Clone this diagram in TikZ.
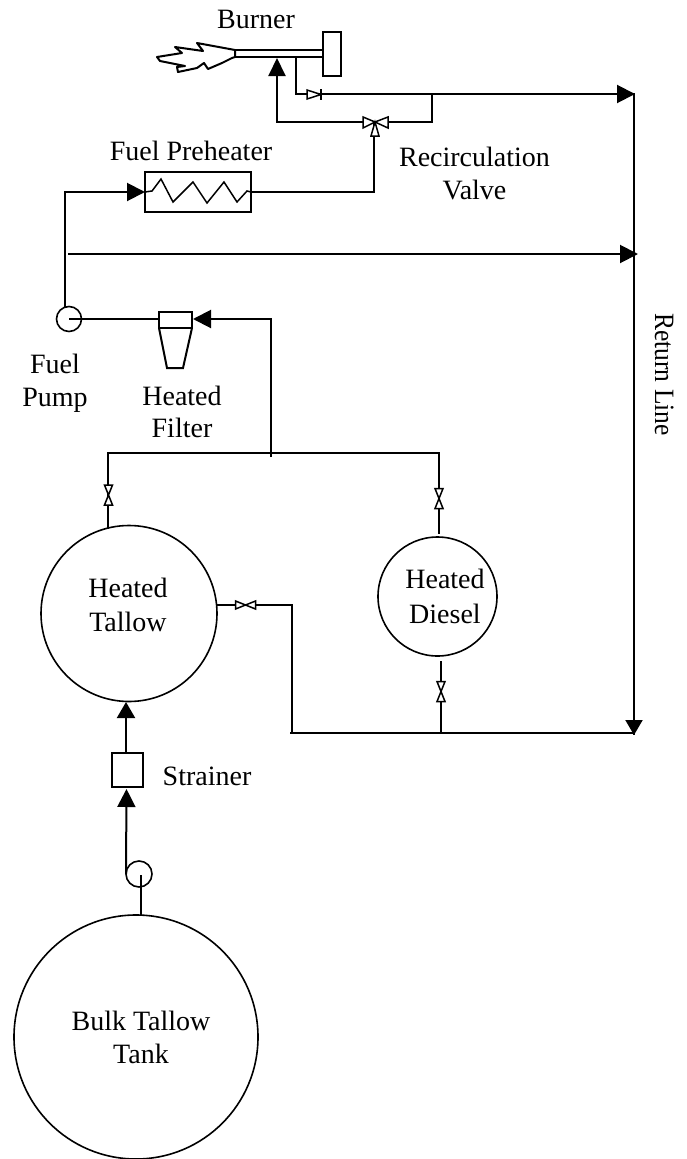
\documentclass[tikz,border=0pt]{standalone}
\usepackage{fontspec}
\setmainfont{Liberation Serif}
\usetikzlibrary{arrows.meta}
\tikzset{
  pipe/.style={line width=2pt, line join=miter},
  thinpipe/.style={line width=1.5pt},
  flow/.style={pipe, -{Triangle[length=18pt, width=18pt]}},
  tank/.style={circle, draw, line width=1.6pt, inner sep=0pt, outer sep=0pt, align=center},
  unit/.style={rectangle, draw, line width=1.5pt, inner sep=0pt, outer sep=0pt},
  label/.style={align=center, font=\fontsize{28}{33}\selectfont},
  valvev/.pic={\draw[thinpipe, fill=white] (-4,-10) -- (4,-10) -- (-4,10) -- (4,10) -- cycle;},
  valveh/.pic={\draw[thinpipe, fill=white] (-10,-4) -- (-10,4) -- (10,-4) -- (10,4) -- cycle;},
}
\begin{document}
\begin{tikzpicture}[x=1pt, y=-1pt]
  \useasboundingbox (0,0) rectangle (687,1159);

  % vessels
  \node[tank, minimum size=244pt] (bulk) at (136,1037) {};
  \node[tank, minimum size=176pt] (tallow) at (129,613.5) {};
  \node[tank, minimum size=119pt] (diesel) at (437.5,596.5) {};
  \node[tank, minimum size=26pt] (pumpb) at (139,874) {};
  \node[tank, minimum size=25pt] (pumpf) at (69,319) {};
  \node[unit, minimum width=31pt, minimum height=34pt] (strainer) at (127.5,770) {};
  \node[unit, minimum width=106pt, minimum height=40pt] (heater) at (198,192) {};
  \node[unit, minimum width=33pt, minimum height=16pt] (filter) at (175.5,320) {};
  \node[unit, minimum width=18pt, minimum height=44pt] (cap) at (332,54) {};

  % junctions
  \coordinate (retTop) at (635,94);
  \coordinate (retMid) at (638,254);
  \coordinate (retBot) at (634,735);
  \coordinate (hdrL) at (108,453);
  \coordinate (hdrM) at (271,453);
  \coordinate (hdrR) at (439,453);
  \coordinate (recV) at (375,122);
  \coordinate (chk) at (314,94);
  \coordinate (tee) at (432,94);
  \coordinate (teeLow) at (432,122);
  \coordinate (nozzle) at (277,58);
  \coordinate (nozzleT) at (296,57);
  \coordinate (lowL) at (292,733);
  \coordinate (lowD) at (441,733);
  \coordinate (lowR) at (634,733);
  \coordinate (vTallow) at (108.5,495);
  \coordinate (vDiesel) at (439,498.5);
  \coordinate (vLow) at (441,691.5);
  \coordinate (vIn) at (245.5,605);
  \coordinate (pumpfTop) at (65,308);
  \coordinate (tipIn) at (126,702);
  \coordinate (tipStr) at (126.5,789);

  % burner
  \draw[pipe] (235,50) -- (cap.west |- 0,50) (235,57) -- (cap.west |- 0,57);
  \draw[pipe, line join=round] (235,50) -- (197,43) -- (203,51) -- (175,47) -- (182,53)
    -- (157,57) -- (160,61) -- (185,66) -- (177,67) -- (178,72) -- (197,68) -- (204,63)
    -- (208,69) -- (222,63) -- (232,58) -- (235,57) -- cycle;

  % pipes
  \draw[flow] (pumpfTop) |- (heater.west);
  \draw[pipe] (heater.east) -| ([xshift=-1pt]recV);
  \draw[flow] (68,254) -- (retMid);
  \draw[pipe] (634,93) -- (retBot);
  \draw[flow, -{Triangle[length=15pt, width=17pt]}] (634,715) -- (retBot);
  \draw[flow] (chk) -- (retTop);
  \draw[pipe] (tee) -- (teeLow) -- (recV);
  \draw[flow, -{Triangle[length=18pt, width=17pt]}] (recV) -| (nozzle);
  \draw[pipe] (nozzleT) |- (chk);
  \draw[pipe] (pumpf.center) -- (filter.west |- pumpf.center);
  \draw[flow] (hdrM) |- ([xshift=1pt]filter.east |- pumpf.center);
  \draw[pipe] (108,529) -- (hdrL) -- (hdrR) -- (439,534);
  \draw[pipe] (271,457) -- (hdrM);
  \draw[pipe] (tallow.east |- vIn) -- (vIn) -- (292,605) -- (lowL);
  \draw[pipe] (290,733) -- (lowR);
  \draw[pipe] (441,661) -- (lowD);
  \draw[flow, -{Triangle[length=16pt, width=18pt]}] (strainer.north -| tipIn) -- (tipIn);
  \draw[flow] (pumpb.west) -- (tipStr);
  \draw[pipe] (141,875) -- (bulk.north -| 141,0);

  % valves
  \pic at (vTallow) {valvev};
  \pic at (vDiesel) {valvev};
  \pic at (vLow) {valvev};
  \pic at (vIn) {valveh};
  \draw[thinpipe, fill=white] (307,90) -- (321,94.5) -- (307,99) -- cycle;
  \draw[pipe] (321,89) -- (321,100);
  \draw[thinpipe, fill=white] (375,122) -- (363,117) -- (363,128) -- cycle;
  \draw[thinpipe, fill=white] (375,122) -- (388,117) -- (388,128) -- cycle;
  \draw[thinpipe, fill=white] (375,122) -- (371,136) -- (379,136) -- cycle;

  % heater coil and filter cone
  \draw[thinpipe] (heater.west) -- (152,191) -- (161,179) -- (173,202) -- (193,182) -- (207,203)
    -- (224,182) -- (237,202) -- (247,191) -- (heater.east);
  \draw[pipe] (filter.south west) -- (167,368) -- (183,368) -- (filter.south east);

  % labels
  \node[label, anchor=base] (burner) at (256,28) {Burner};
  \node[label, anchor=base] (preheat) at (191,160) {Fuel Preheater};
  \node[label, anchor=base] (recirc) at (474.5,166) {Recirculation};
  \node[label, anchor=base] (recirc2) at (474.5,199) {Valve};
  \node[label, anchor=base] (fuel) at (55,373) {Fuel};
  \node[label, anchor=base] (pumpl) at (55,406) {Pump};
  \node[label, anchor=base] (hfilter) at (182,405) {Heated};
  \node[label, anchor=base] (hfilter2) at (182,437) {Filter};
  \node[label, anchor=base] (htallow) at (128,597) {Heated};
  \node[label, anchor=base] (htallow2) at (128,631) {Tallow};
  \node[label, anchor=base] (hdiesel) at (445,588) {Heated};
  \node[label, anchor=base] (hdiesel2) at (445,623) {Diesel};
  \node[label, anchor=base] (strain) at (207,785) {Strainer};
  \node[label, anchor=base] (btank) at (141,1030) {Bulk Tallow};
  \node[label, anchor=base] (btank2) at (141,1063) {Tank};
  \node[label, rotate=-90, anchor=base] (ret) at (655,374.5) {\scalebox{0.91}[1]{Return Line}};
\end{tikzpicture}
\end{document}
